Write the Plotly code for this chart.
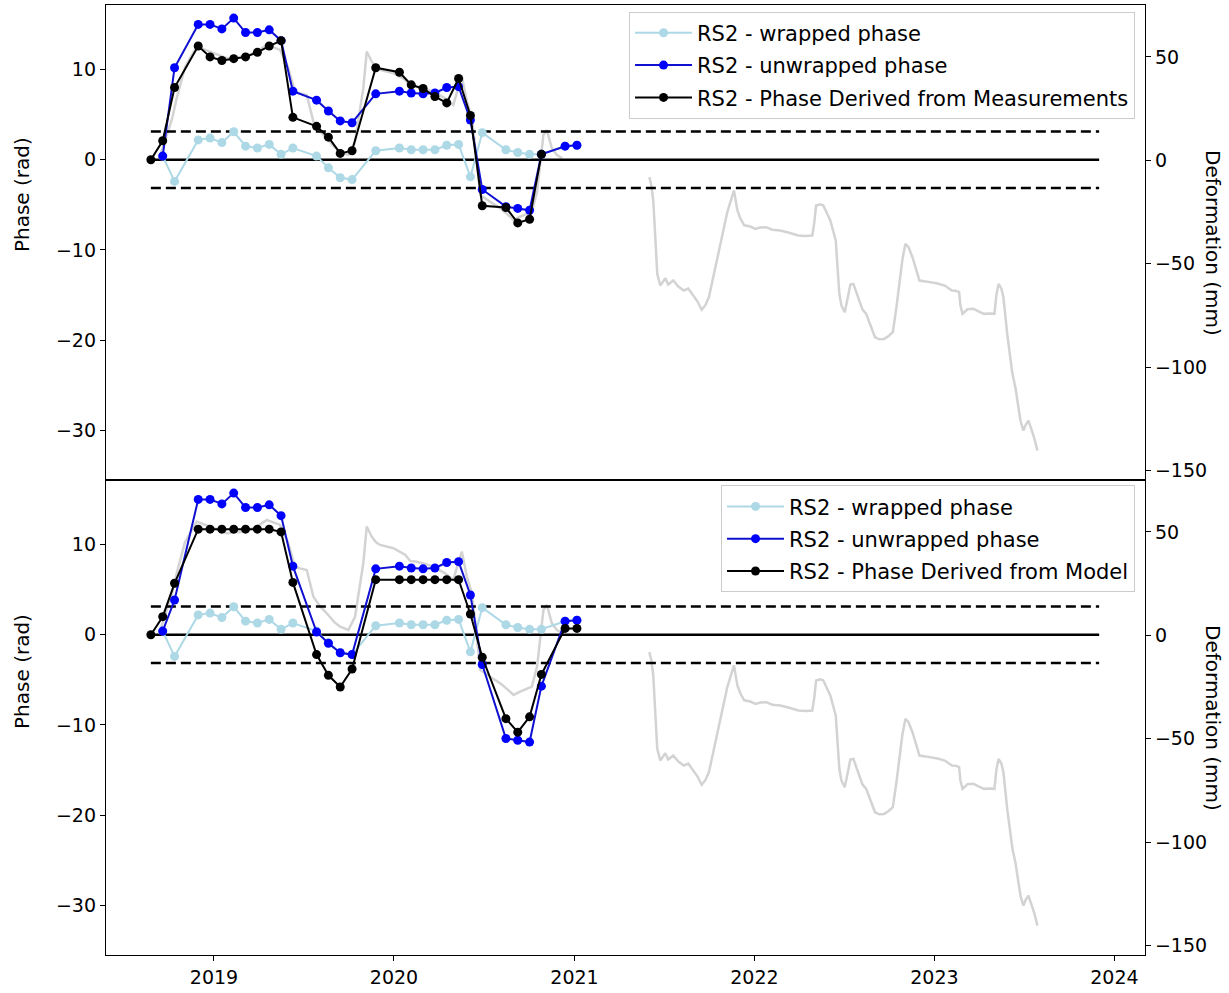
import pandas as pd
import plotly.graph_objects as go

# RS2 acquisition dates (24-day repeat, with missing passes)
acq_dates = [
    "2018-08-26", "2018-09-19", "2018-10-13", "2018-11-30", "2018-12-24",
    "2019-01-17", "2019-02-10", "2019-03-06", "2019-03-30", "2019-04-23",
    "2019-05-17", "2019-06-10", "2019-07-28", "2019-08-21", "2019-09-14",
    "2019-10-08", "2019-11-25", "2020-01-12", "2020-02-05", "2020-02-29",
    "2020-03-24", "2020-04-17", "2020-05-11", "2020-06-04", "2020-06-28",
    "2020-08-15", "2020-09-08", "2020-10-02", "2020-10-26", "2020-12-13",
    "2021-01-06",
]

# phase values (rad)
wrapped_phase = [None, 0.4, -2.4, 2.2, 2.4, 1.9, 3.1, 1.5, 1.3, 1.7, 0.6, 1.3, 0.4,
                 -0.9, -2.0, -2.2, 1.0, 1.3, 1.1, 1.1, 1.1, 1.6, 1.7, -1.9, 3.0,
                 1.1, 0.8, 0.6, 0.6, 1.5, 1.6]
unwrapped_meas = [None, 0.4, 10.2, 15.0, 15.0, 14.5, 15.7, 14.1, 14.1, 14.4, 13.2,
                  7.6, 6.6, 5.4, 4.3, 4.1, 7.3, 7.6, 7.4, 7.3, 7.4, 8.0, 8.1, 4.4,
                  -3.3, -5.2, -5.4, -5.6, 0.6, 1.5, 1.6]
derived_meas = [0.0, 2.1, 8.0, 12.6, 11.4, 11.0, 11.2, 11.4, 11.9, 12.6, 13.2, 4.7,
                3.7, 2.5, 0.7, 1.0, 10.2, 9.7, 8.3, 7.9, 7.0, 6.3, 9.0, 4.9, -5.1,
                -5.3, -7.0, -6.6, 0.6, None, None]
unwrapped_model = [None, 0.4, 3.85, 15.0, 15.0, 14.5, 15.7, 14.1, 14.1, 14.4, 13.2,
                   7.6, 0.3, -0.95, -2.0, -2.2, 7.3, 7.6, 7.4, 7.3, 7.4, 8.0, 8.1,
                   4.4, -3.3, -11.5, -11.7, -11.9, -5.7, 1.5, 1.6]
derived_model = [0.0, 2.0, 5.7, 11.7, 11.7, 11.7, 11.7, 11.7, 11.7, 11.7, 11.4, 5.8,
                 -2.2, -4.5, -5.8, -3.8, 6.1, 6.1, 6.1, 6.1, 6.1, 6.1, 6.1, 2.3,
                 -2.5, -9.3, -10.8, -9.1, -4.4, 0.7, 0.7]

# ground deformation record (decimal year, mm); None marks the data gap
defo_year = [
    2018.700, 2018.767, 2018.793, 2018.839, 2018.904, 2018.989, 2019.071, 2019.144,
    2019.228, 2019.293, 2019.367, 2019.411, 2019.450, 2019.478, 2019.515, 2019.552,
    2019.589, 2019.626, 2019.667, 2019.700, 2019.746, 2019.783, 2019.811, 2019.829,
    2019.848, 2019.876, 2019.900, 2019.922, 2019.996, 2020.033, 2020.061, 2020.089,
    2020.126, 2020.172, 2020.218, 2020.283, 2020.329, 2020.356, 2020.376, 2020.404,
    2020.433, 2020.456, 2020.478, 2020.533, 2020.589, 2020.628, 2020.663, 2020.700,
    2020.765, 2020.794, 2020.811, 2020.829, 2020.848, 2020.876, 2020.904, 2020.933,
    None,
    2021.417, 2021.428, 2021.439, 2021.461, 2021.478, 2021.506, 2021.522, 2021.550,
    2021.578, 2021.609, 2021.633, 2021.658, 2021.683, 2021.708, 2021.728, 2021.748,
    2021.783, 2021.817, 2021.850, 2021.887, 2021.894, 2021.906, 2021.922, 2021.944,
    2021.978, 2022.006, 2022.033, 2022.065, 2022.100, 2022.144, 2022.194, 2022.244,
    2022.283, 2022.322, 2022.333, 2022.343, 2022.367, 2022.383, 2022.400, 2022.422,
    2022.452, 2022.461, 2022.472, 2022.483, 2022.502, 2022.522, 2022.533, 2022.550,
    2022.567, 2022.581, 2022.600, 2022.621, 2022.644, 2022.670, 2022.694, 2022.720,
    2022.744, 2022.769, 2022.789, 2022.809, 2022.822, 2022.839, 2022.856, 2022.878,
    2022.894, 2022.917, 2022.950, 2022.978, 2023.017, 2023.057, 2023.078, 2023.097,
    2023.117, 2023.137, 2023.144, 2023.156, 2023.183, 2023.217, 2023.244, 2023.276,
    2023.306, 2023.333, 2023.344, 2023.356, 2023.372, 2023.383, 2023.404, 2023.417,
    2023.433, 2023.450, 2023.464, 2023.478, 2023.494, 2023.506, 2023.522, 2023.539,
    2023.553, 2023.572,
]
defo_mm = [
    2, 20, 30, 45, 55, 52, 49.4, 50,
    52, 55.8, 53.4, 45, 33, 32.4, 31.6, 18.7,
    14, 10.7, 6.5, 4.2, 2.6, 9, 25, 34.9,
    52.6, 47.7, 45, 43.7, 42.1, 40.5, 39, 36,
    35.6, 34.5, 33.2, 30, 26.8, 35, 40.5, 28.4,
    20, 2, -16.7, -20, -23.2, -26, -28.8, -27.2,
    -24.8, -15, -2.2, 12.3, 14.7, 5.8, 2.6, 1,
    None,
    -8.1, -12, -19.4, -54.8, -60.5, -57, -60, -58.1,
    -61, -62.9, -62, -65.3, -68, -72.2, -70, -66.1,
    -52, -38.7, -25, -14.5, -18, -24.2, -28, -31.4,
    -32, -33.1, -32.5, -32.3, -33.5, -33.9, -35, -36.3,
    -36.5, -36.3, -30, -21.8, -21.2, -21.8, -25, -29,
    -38.7, -50, -64.5, -70, -73.4, -65, -60, -59.7,
    -64, -67.7, -72, -74.2, -80, -85.5, -86.5, -86.3,
    -85, -83, -71, -58.1, -48, -40.3, -42, -46.8,
    -52, -58.1, -58.5, -58.9, -59.5, -60.5, -62, -62.9,
    -63, -63.7, -70, -74.2, -72, -71.7, -73, -74.2,
    -74, -74.2, -65, -59.7, -62, -66.1, -83.9, -93,
    -103.2, -110, -117.7, -126, -130.6, -128, -125.8, -130,
    -133.9, -140.3,
]

# reference lines: zero and +/- half phase cycle
ref_start, ref_end = "2018-08-26", "2023-12-01"
half_cycle = 3.1416

x_range = ["2018-05-27", "2024-03-03"]
phase_range = [-35.5, 17.15]
defo_range = [-154.5, 75.1]
phase_ticks = [-30, -20, -10, 0, 10]
defo_ticks = [-150, -100, -50, 0, 50]


def year_to_date(y):
    if y is None:
        return None
    return pd.Timestamp("2019-01-01") + pd.Timedelta(days=(y - 2019) * 365.25)


defo_dates = [year_to_date(y) for y in defo_year]

FONT = "DejaVu Sans"
FS = 19
LEGEND_FS = 21
TITLE_FS = 20
LIGHTBLUE = "#ADD8E6"
BLUE = "#0000FF"
BLUE_LINE = "#1010D0"

panels = [
    dict(x="x", y_def="y", y_ph="y2", legend="legend",
         unwrapped=unwrapped_meas, derived=derived_meas,
         derived_name="RS2 - Phase Derived from Measurements"),
    dict(x="x2", y_def="y3", y_ph="y4", legend="legend2",
         unwrapped=unwrapped_model, derived=derived_model,
         derived_name="RS2 - Phase Derived from Model"),
]

fig = go.Figure()
for p in panels:
    # deformation on the right-hand axis (drawn underneath)
    fig.add_trace(go.Scatter(
        x=defo_dates, y=defo_mm, mode="lines", connectgaps=False,
        line=dict(color="#D3D3D3", width=2.5),
        xaxis=p["x"], yaxis=p["y_def"], showlegend=False, hoverinfo="skip"))
    # zero and +/- pi reference lines
    for val, dash in [(0, "solid"), (half_cycle, "10px,5px"), (-half_cycle, "10px,5px")]:
        fig.add_trace(go.Scatter(
            x=[ref_start, ref_end], y=[val, val], mode="lines",
            line=dict(color="black", width=2.5, dash=dash),
            xaxis=p["x"], yaxis=p["y_ph"], showlegend=False, hoverinfo="skip"))
    fig.add_trace(go.Scatter(
        x=acq_dates, y=wrapped_phase, mode="lines+markers", name="RS2 - wrapped phase",
        line=dict(color=LIGHTBLUE, width=2), marker=dict(color=LIGHTBLUE, size=9),
        xaxis=p["x"], yaxis=p["y_ph"], legend=p["legend"], legendgroup="a" + p["x"]))
    fig.add_trace(go.Scatter(
        x=acq_dates, y=p["unwrapped"], mode="lines+markers", name="RS2 - unwrapped phase",
        line=dict(color=BLUE_LINE, width=2), marker=dict(color=BLUE, size=9),
        xaxis=p["x"], yaxis=p["y_ph"], legend=p["legend"], legendgroup="b" + p["x"]))
    fig.add_trace(go.Scatter(
        x=acq_dates, y=p["derived"], mode="lines+markers", name=p["derived_name"],
        line=dict(color="black", width=2), marker=dict(color="black", size=9),
        xaxis=p["x"], yaxis=p["y_ph"], legend=p["legend"], legendgroup="c" + p["x"]))

axis_common = dict(showline=True, linecolor="black", linewidth=1.3, showgrid=False,
                   zeroline=False, ticks="outside", ticklen=5, tickwidth=1.3,
                   tickcolor="black", tickfont=dict(family=FONT, size=FS, color="black"))

legend_common = dict(
    xanchor="right", yanchor="top", x=0.9904,
    bgcolor="rgba(255,255,255,0.85)", bordercolor="#CCCCCC", borderwidth=1,
    font=dict(family=FONT, size=LEGEND_FS, color="black"),
    traceorder="grouped", tracegroupgap=2, itemwidth=57,
)

fig.update_layout(
    width=1229, height=993, autosize=False,
    margin=dict(l=106, r=84, t=5, b=38),
    paper_bgcolor="white", plot_bgcolor="white",
    font=dict(family=FONT, size=FS, color="black"),
    xaxis=dict(domain=[0, 1], anchor="y", type="date", range=x_range,
               showline=True, mirror=True, linecolor="black", linewidth=1.3,
               showgrid=False, zeroline=False, ticks="", showticklabels=False),
    xaxis2=dict(domain=[0, 1], anchor="y3", type="date", range=x_range, matches="x",
                mirror=True, dtick="M12", tickformat="%Y", **axis_common),
    yaxis=dict(domain=[0.5, 1], anchor="x", side="right", range=defo_range,
               tickvals=defo_ticks, **axis_common),
    yaxis2=dict(overlaying="y", anchor="x", side="left", range=phase_range,
                tickvals=phase_ticks, **axis_common),
    yaxis3=dict(domain=[0, 0.5], anchor="x2", side="right", range=defo_range,
                tickvals=defo_ticks, **axis_common),
    yaxis4=dict(overlaying="y3", anchor="x2", side="left", range=phase_range,
                tickvals=phase_ticks, **axis_common),
    legend=dict(y=0.993, **legend_common),
    legend2=dict(y=0.4945, **legend_common),
)

title_font = dict(family=FONT, size=TITLE_FS, color="black")
for yc in (0.80, 0.298):
    fig.add_annotation(text="Phase (rad)", xref="paper", yref="paper", x=-0.0808, y=yc,
                       textangle=-90, showarrow=False, font=title_font,
                       xanchor="center", yanchor="middle")
for yc in (0.7495, 0.2495):
    fig.add_annotation(text="Deformation (mm)", xref="paper", yref="paper", x=1.0654, y=yc,
                       textangle=90, showarrow=False, font=title_font,
                       xanchor="center", yanchor="middle")

fig.write_html("out.html")
